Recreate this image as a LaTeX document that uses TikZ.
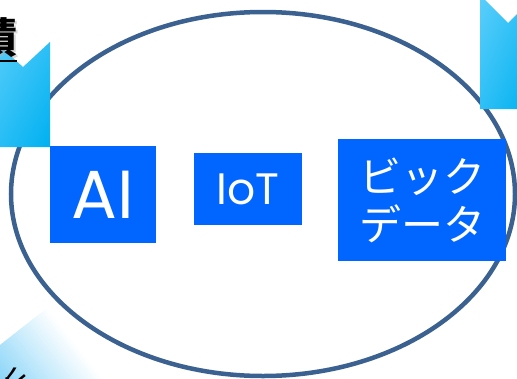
\documentclass[tikz,border=0pt]{standalone}
\usepackage{fontspec}
\usetikzlibrary{shadings}
\setmainfont{Poppins}
\newfontfamily\jp{Noto Sans CJK JP}
\definecolor{ellblue}{HTML}{3B6190}
\definecolor{boxblue}{HTML}{0066FF}
\definecolor{chevlight}{HTML}{5BCEFB}
\definecolor{chevmid}{HTML}{2EC0F6}
\definecolor{chevdark}{HTML}{00B0F0}
\definecolor{fadeblue}{HTML}{86D4F8}
\tikzset{
  techbox/.style={fill=boxblue, text=white, inner sep=0pt, draw=none, align=center},
  chevron/.style={upper left=chevlight, upper right=chevmid, lower left=chevmid, lower right=chevdark},
}
\begin{document}
\begin{tikzpicture}[x=1pt,y=-1pt]
\useasboundingbox (0,0) rectangle (517,378);
\clip (0,0) rectangle (517,378);
% bottom-left faded label, drawn as strips (white at the top corner, blue towards lower left)
\foreach \i in {0,...,39} {
  \pgfmathsetmacro\sa{-3*\i-3.8}
  \pgfmathsetmacro\sb{-3*\i}
  \pgfmathsetmacro\pct{min(100,100*(3*\i+1.5)/85)}
  \fill[fadeblue!\pct!white]
    ({47+\sa*0.786},{308-\sa*0.619}) -- ({47+\sb*0.786},{308-\sb*0.619}) --
    ({47+\sb*0.786+160*0.619},{308-\sb*0.619+160*0.786}) --
    ({47+\sa*0.786+160*0.619},{308-\sa*0.619+160*0.786}) -- cycle;
}
\node[rotate=40, font=\jp\fontsize{36}{36}\selectfont] (bunseki) at (14,388) {析};
% ellipse
\draw[ellblue, line width=4.5pt] (263,194) ellipse [x radius=252pt, y radius=182pt];
% boxes
\node[techbox, minimum width=106pt, minimum height=97pt, font=\fontsize{68}{68}\selectfont] (ai) at (103,194.5) {AI};
\node[techbox, minimum width=108pt, minimum height=72pt, font=\fontsize{44}{44}\selectfont] (iot) at (248,189) {IoT};
\node[techbox, minimum width=168pt, minimum height=122pt, font=\jp\fontsize{42}{48}\selectfont] (bigdata) at (422,200) {ビック\\データ};
% chevrons
\shade[chevron] (-10,37) -- (23,67) -- (50,42) -- (50,147) -- (-10,147) -- cycle;
\shade[chevron] (480,-5) -- (508,23) -- (531,0) -- (531,109) -- (480,109) -- cycle;
% top-left label
\node[text=black!30, opacity=0.5, font=\jp\bfseries\fontsize{42}{42}\selectfont] at (-1.5,40) {積};
\node[font=\jp\bfseries\fontsize{42}{42}\selectfont] (chiku) at (-3,38) {積};
\draw[line width=2.5pt] (-25,61) -- (17,61);
\end{tikzpicture}
\end{document}
